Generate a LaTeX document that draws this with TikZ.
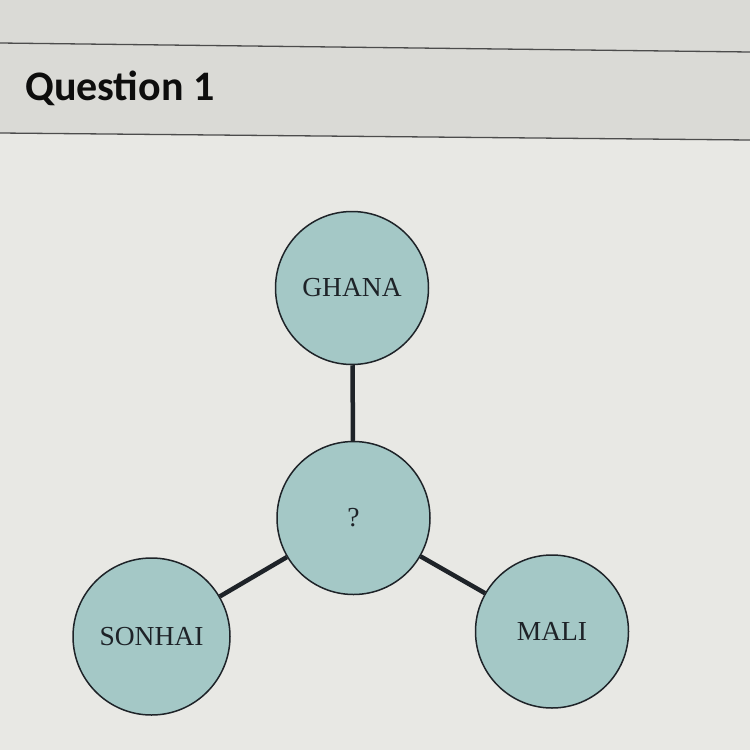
\documentclass[tikz,border=0pt]{standalone}
\usepackage{fontspec}
\setmainfont{Liberation Serif}
\newfontfamily\headfont{Carlito}
\definecolor{pagebg}{HTML}{E8E8E4}
\definecolor{headbg}{HTML}{DADAD6}
\definecolor{circfill}{HTML}{A4C8C6}
\definecolor{inkline}{HTML}{1E2328}
\tikzset{
  era/.style={circle, draw=inkline, line width=1.5pt, fill=circfill, minimum size=153pt, inner sep=0pt, font=\fontsize{27.5}{27.5}\selectfont, text=inkline},
  link/.style={draw=inkline, line width=4.5pt},
  rule/.style={draw=black!70, line width=1.3pt}
}
\begin{document}
\begin{tikzpicture}[x=1pt, y=-1pt]
\useasboundingbox (0,0) rectangle (750,750);
\fill[pagebg] (0,0) rectangle (750,750);
\fill[headbg] (0,0) -- (750,0) -- (750,140) -- (0,133) -- cycle;
\draw[rule] (0,43) -- (750,52);
\draw[rule] (0,133) -- (750,140);
\node[anchor=base west, font=\headfont\bfseries\fontsize{42}{42}\selectfont, text=black!95, inner sep=0pt] (title) at (25,100) {Question 1};
\node[era] (ghana) at (352,288) {GHANA};
\node[era] (center) at (353.5,518) {?};
\node[era, minimum size=157pt] (sonhai) at (151.5,636.5) {SONHAI};
\node[era] (mali) at (552,631.5) {MALI};
\draw[link] (ghana) -- (center);
\draw[link] (center) -- (sonhai);
\draw[link] (center) -- (mali);
\end{tikzpicture}
\end{document}
